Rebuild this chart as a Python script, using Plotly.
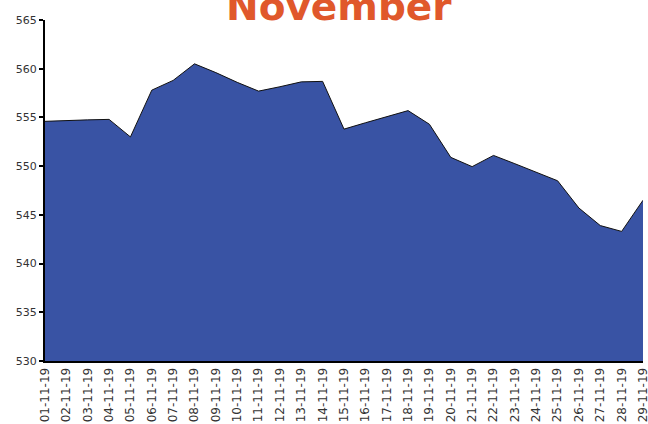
import plotly.graph_objects as go

dates = ["01-11-19", "02-11-19", "03-11-19", "04-11-19", "05-11-19", "06-11-19",
         "07-11-19", "08-11-19", "09-11-19", "10-11-19", "11-11-19", "12-11-19",
         "13-11-19", "14-11-19", "15-11-19", "16-11-19", "17-11-19", "18-11-19",
         "19-11-19", "20-11-19", "21-11-19", "22-11-19", "23-11-19", "24-11-19",
         "25-11-19", "26-11-19", "27-11-19", "28-11-19", "29-11-19"]
values = [554.6, 554.7, 554.75, 554.8, 553.0, 557.8,
          558.8, 560.5, 559.6, 558.6, 557.7, 558.15,
          558.65, 558.7, 553.8, 554.45, 555.05, 555.7,
          554.3, 550.9, 549.95, 551.1, 550.25, 549.4,
          548.5, 545.7, 543.9, 543.3, 546.5]
y_ticks = [530, 535, 540, 545, 550, 555, 560, 565]
title_text = "November"

fig = go.Figure()
fig.add_trace(go.Scatter(
    x=dates, y=values, mode="lines", fill="tozeroy",
    fillcolor="#3953A4", line=dict(color="#111111", width=1),
    hoverinfo="x+y", showlegend=False,
))

fig.update_layout(
    width=648, height=424,
    margin=dict(l=45, r=5, t=20, b=63, autoexpand=False),
    paper_bgcolor="white", plot_bgcolor="white",
    font=dict(family="DejaVu Sans", size=11, color="#333333"),
    annotations=[dict(
        text="<b>" + title_text + "</b>", xref="paper", yref="paper",
        x=0.4916, y=1, xanchor="center", yanchor="bottom", yshift=-11,
        showarrow=False, font=dict(family="DejaVu Sans", size=39, color="#E0582B"),
    )],
)
fig.update_xaxes(
    type="category", range=[0, len(dates) - 1], tickangle=-90,
    showline=True, linecolor="black", linewidth=2, showgrid=False,
    ticks="", tickfont=dict(size=12), automargin=False,
    ticklabeloverflow="allow",
)
fig.update_yaxes(
    range=[530, 565], tickvals=y_ticks, showline=True, linecolor="black",
    linewidth=2, showgrid=False, ticks="outside", ticklen=4, tickwidth=2,
    tickcolor="black", zeroline=False, tickfont=dict(size=11), automargin=False,
)
fig.write_html(
    "out.html",
    config={"displayModeBar": False},
    post_script="document.body.style.margin='0px';document.body.style.overflow='hidden';",
)
